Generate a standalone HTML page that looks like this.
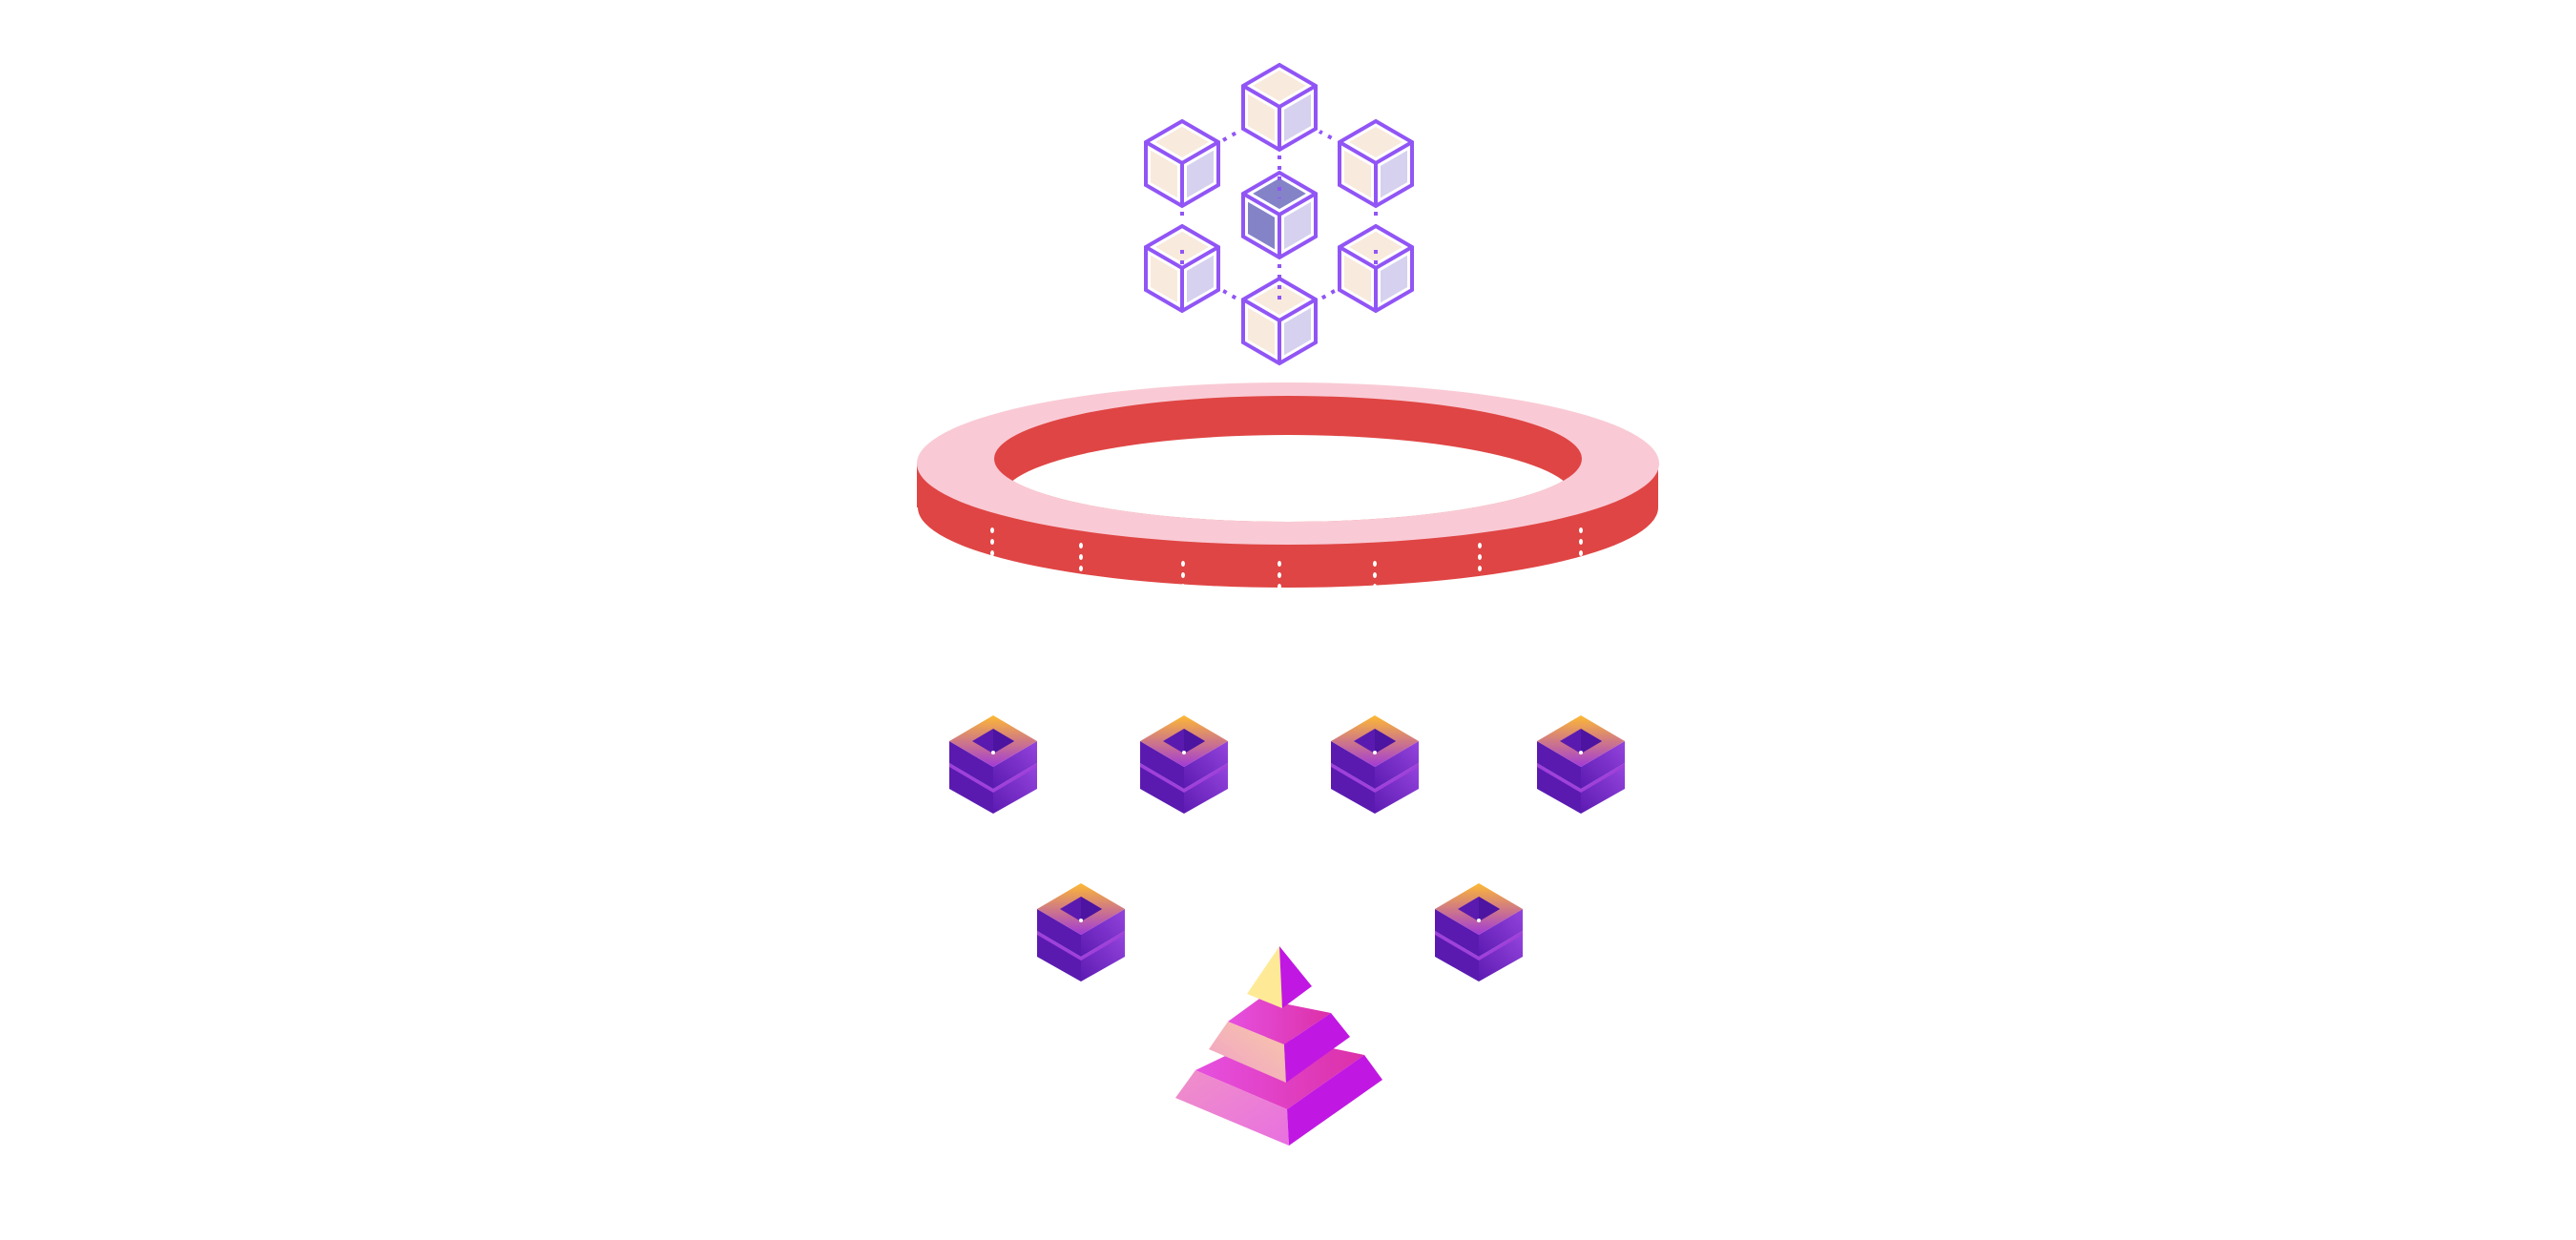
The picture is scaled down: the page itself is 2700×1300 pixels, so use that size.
<!DOCTYPE html>
<html><head><meta charset="utf-8"><style>html,body{margin:0;padding:0;background:#fff}svg{display:block}</style></head>
<body>
<svg width="2700" height="1300" viewBox="0 0 2700 1300" xmlns="http://www.w3.org/2000/svg" xmlns:xlink="http://www.w3.org/1999/xlink">
<defs>
<linearGradient id="srvTop" x1="0" y1="0" x2="0" y2="1"><stop offset="0" stop-color="#fdb933"/><stop offset="1" stop-color="#a23ad8"/></linearGradient>
<linearGradient id="srvRight" x1="0" y1="1" x2="1" y2="0"><stop offset="0" stop-color="#5c1ab2"/><stop offset="1" stop-color="#9444dc"/></linearGradient>
<linearGradient id="pyTop" x1="0" y1="0" x2="1" y2="0"><stop offset="0" stop-color="#e650e0"/><stop offset="1" stop-color="#dc30a8"/></linearGradient>
<linearGradient id="pyLeft" x1="0" y1="0" x2="1" y2="1"><stop offset="0" stop-color="#f090c8"/><stop offset="1" stop-color="#e870e0"/></linearGradient>
<linearGradient id="pyPeach" x1="1" y1="0" x2="0" y2="1"><stop offset="0" stop-color="#f8c8a8"/><stop offset="1" stop-color="#f0a0c8"/></linearGradient>
<clipPath id="innerClip"><ellipse cx="1350" cy="481" rx="308" ry="66"/></clipPath>
<g id="cubeLight">
  <polygon points="0,0 38,22 0,44 -38,22" fill="#f8eadc" stroke="#fff" stroke-width="10" stroke-linejoin="round"/>
  <polygon points="-38,22 0,44 0,89 -38,67" fill="#f8eadc" stroke="#fff" stroke-width="10" stroke-linejoin="round"/>
  <polygon points="38,22 0,44 0,89 38,67" fill="#d6d1ee" stroke="#fff" stroke-width="10" stroke-linejoin="round"/>
  <polygon points="0,0 38,22 38,67 0,89 -38,67 -38,22" fill="none" stroke="#9155f5" stroke-width="4"/>
  <polyline points="-38,22 0,44 38,22" fill="none" stroke="#9155f5" stroke-width="4"/>
  <line x1="0" y1="44" x2="0" y2="89" stroke="#9155f5" stroke-width="4"/>
</g>
<g id="cubeDark">
  <polygon points="0,0 38,22 0,44 -38,22" fill="#8483c8" stroke="#fff" stroke-width="10" stroke-linejoin="round"/>
  <polygon points="-38,22 0,44 0,89 -38,67" fill="#8483c8" stroke="#fff" stroke-width="10" stroke-linejoin="round"/>
  <polygon points="38,22 0,44 0,89 38,67" fill="#d6d1ee" stroke="#fff" stroke-width="10" stroke-linejoin="round"/>
  <polygon points="0,0 38,22 38,67 0,89 -38,67 -38,22" fill="none" stroke="#9155f5" stroke-width="4"/>
  <polyline points="-38,22 0,44 38,22" fill="none" stroke="#9155f5" stroke-width="4"/>
  <line x1="0" y1="44" x2="0" y2="89" stroke="#9155f5" stroke-width="4"/>
</g>
<g id="server">
  <polygon points="-46,53 0,80 0,103 -46,77" fill="#5a1ab0"/>
  <polygon points="46,53 0,80 0,103 46,77" fill="url(#srvRight)"/>
  <polygon points="-46,50 0,77 46,50 46,54 0,81 -46,54" fill="#a040da"/>
  <polygon points="-46,27 0,54 0,77 -46,50" fill="#5a1ab0"/>
  <polygon points="46,27 0,54 0,77 46,50" fill="url(#srvRight)"/>
  <polygon points="0,0 46,27 0,54 -46,27" fill="url(#srvTop)"/>
  <polygon points="0,14 22,27 0,40 -22,27" fill="#5a1ab0"/>
  <polygon points="0,14 22,27 0,40" fill="#4c14a0"/>
  <circle cx="0" cy="39" r="2" fill="#fff"/>
</g>
<g id="dots3" fill="#fff"><ellipse cx="0" cy="0" rx="2" ry="3"/><ellipse cx="0" cy="12" rx="2" ry="3"/><ellipse cx="0" cy="24" rx="2" ry="3"/></g>
<g id="dots4" fill="#fff"><ellipse cx="0" cy="0" rx="2" ry="3"/><ellipse cx="0" cy="12" rx="2" ry="3"/><ellipse cx="0" cy="24" rx="2" ry="3"/><ellipse cx="0" cy="36" rx="2" ry="3"/></g>
</defs>

<g stroke="#9155f5" stroke-width="4" stroke-dasharray="4 7">
  <line x1="1282" y1="147" x2="1317" y2="127"/>
  <line x1="1363" y1="127" x2="1400" y2="147"/>
  <line x1="1239" y1="222" x2="1239" y2="262"/>
  <line x1="1442" y1="222" x2="1442" y2="262"/>
  <line x1="1263" y1="294" x2="1298" y2="314"/>
  <line x1="1418" y1="294" x2="1383" y2="314"/>
</g>
<g>
  <use href="#cubeLight" xlink:href="#cubeLight" x="1341" y="68"/>
  <use href="#cubeLight" xlink:href="#cubeLight" x="1239" y="127"/>
  <use href="#cubeLight" xlink:href="#cubeLight" x="1442" y="127"/>
  <use href="#cubeDark" xlink:href="#cubeDark" x="1341" y="181"/>
  <use href="#cubeLight" xlink:href="#cubeLight" x="1239" y="237"/>
  <use href="#cubeLight" xlink:href="#cubeLight" x="1442" y="237"/>
  <use href="#cubeLight" xlink:href="#cubeLight" x="1341" y="292"/>
</g>
<g stroke="#9155f5" stroke-width="4" stroke-dasharray="4 7">
  <line x1="1341" y1="163" x2="1341" y2="208"/>
  <line x1="1341" y1="277" x2="1341" y2="318"/>
  <line x1="1239" y1="262" x2="1239" y2="290"/>
  <line x1="1442" y1="262" x2="1442" y2="290"/>
</g>

<g>
  <ellipse cx="1350" cy="532" rx="388" ry="84" fill="#df4544"/>
  <rect x="961" y="486" width="777" height="46" fill="#df4544"/>
  <ellipse cx="1350" cy="486" rx="389" ry="85" fill="#f9cad5"/>
  <ellipse cx="1350" cy="481" rx="308" ry="66" fill="#df4544"/>
  <ellipse cx="1350" cy="522" rx="300" ry="66" fill="#fff" clip-path="url(#innerClip)"/>
  <use href="#dots3" xlink:href="#dots3" x="1040" y="556"/>
  <use href="#dots3" xlink:href="#dots3" x="1133" y="572"/>
  <use href="#dots3" xlink:href="#dots3" x="1240" y="591"/>
  <use href="#dots3" xlink:href="#dots3" x="1341" y="591"/>
  <use href="#dots3" xlink:href="#dots3" x="1441" y="591"/>
  <use href="#dots4" xlink:href="#dots4" x="1551" y="572"/>
  <use href="#dots3" xlink:href="#dots3" x="1657" y="556"/>
</g>

<g>
  <use href="#server" xlink:href="#server" x="1041" y="750"/>
  <use href="#server" xlink:href="#server" x="1241" y="750"/>
  <use href="#server" xlink:href="#server" x="1441" y="750"/>
  <use href="#server" xlink:href="#server" x="1657" y="750"/>
  <use href="#server" xlink:href="#server" x="1133" y="926"/>
  <use href="#server" xlink:href="#server" x="1550" y="926"/>
</g>

<g stroke-linejoin="round">
  <polygon points="1253,1122 1330,1085 1430,1106 1349,1163" fill="url(#pyTop)"/>
  <polygon points="1253,1122 1349,1163 1351,1201 1232,1151" fill="url(#pyLeft)"/>
  <polygon points="1349,1163 1430,1106 1449,1132 1351,1201" fill="#c018e2"/>
  <polygon points="1287,1071 1320,1047 1395,1062 1346,1095" fill="url(#pyTop)"/>
  <polygon points="1287,1071 1346,1095 1348,1135 1267,1100" fill="url(#pyPeach)"/>
  <polygon points="1346,1095 1395,1062 1415,1087 1348,1135" fill="#c018e2"/>
  <polygon points="1341,992 1307,1042 1344,1057" fill="#feea96"/>
  <polygon points="1341,992 1375,1034 1344,1057" fill="#c018e2"/>
</g>
</svg>
</body></html>
